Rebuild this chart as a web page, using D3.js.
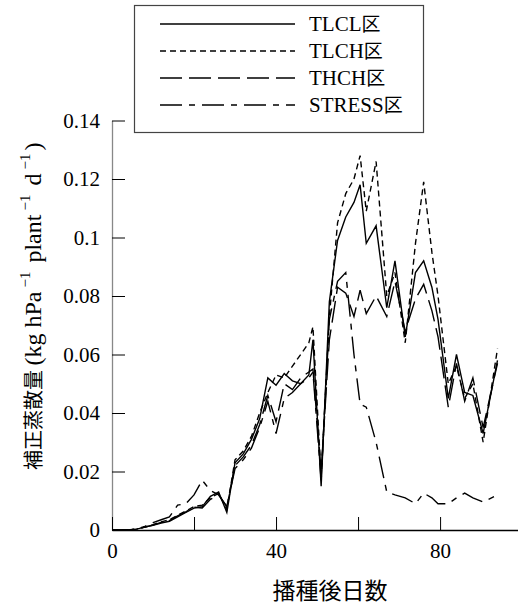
<!DOCTYPE html>
<html>
<head>
<meta charset="utf-8">
<script src="https://cdn.jsdelivr.net/npm/d3@7"></script>
<style>
  body { margin: 0; background: #fff; }
</style>
</head>
<body>
<script>
// 播種後日数
const days = [0, 2, 4, 6, 8, 10, 12, 14, 16, 18, 20, 22, 24, 26, 28, 30, 32, 34, 36, 38,
  40, 42, 44, 46, 48, 49, 51, 53, 55, 57, 59, 60.5, 62, 64.4, 67, 69, 71.5, 74, 76, 78,
  79.5, 82, 84, 86, 88, 90.5, 94];

// 補正蒸散量 (kg hPa-1 plant-1 d-1)
const tlcl = [0, 0, 0, 0.0003, 0.001, 0.0016, 0.0024, 0.003, 0.0045, 0.006, 0.0075, 0.008,
  0.0115, 0.013, 0.006, 0.023, 0.026, 0.031, 0.038, 0.052, 0.0495, 0.0535, 0.051, 0.05,
  0.053, 0.065, 0.015, 0.078, 0.099, 0.107, 0.112, 0.118, 0.098, 0.104, 0.076, 0.092,
  0.066, 0.088, 0.092, 0.083, 0.072, 0.045, 0.06, 0.047, 0.046, 0.033, 0.058];
const tlch = [0, 0, 0, 0.0003, 0.001, 0.0018, 0.0028, 0.0035, 0.005, 0.0065, 0.008, 0.0085,
  0.011, 0.0125, 0.007, 0.024, 0.027, 0.032, 0.04, 0.047, 0.053, 0.052, 0.056, 0.06,
  0.064, 0.0695, 0.018, 0.073, 0.105, 0.115, 0.12, 0.128, 0.109, 0.126, 0.08, 0.088,
  0.064, 0.098, 0.119, 0.095, 0.08, 0.05, 0.056, 0.045, 0.05, 0.03, 0.062];
const thch = [0, 0, 0, 0.0003, 0.001, 0.0017, 0.0026, 0.0032, 0.0048, 0.0062, 0.0078, 0.0075,
  0.0105, 0.012, 0.008, 0.022, 0.025, 0.029, 0.036, 0.046, 0.037, 0.05, 0.048, 0.052,
  0.054, 0.055, 0.02, 0.065, 0.083, 0.081, 0.073, 0.082, 0.074, 0.08, 0.073, 0.085,
  0.068, 0.079, 0.084, 0.075, 0.066, 0.042, 0.057, 0.044, 0.052, 0.035, 0.057];
const stress = [0, 0, 0, 0.0004, 0.0012, 0.0025, 0.0035, 0.0045, 0.0085, 0.009, 0.012, 0.017,
  0.0135, 0.012, 0.008, 0.021, 0.024, 0.028, 0.035, 0.044, 0.033, 0.045, 0.047, 0.05,
  0.052, 0.054, 0.017, 0.072, 0.085, 0.088, 0.06, 0.043, 0.042, 0.03, 0.013, 0.012,
  0.011, 0.009, 0.0126, 0.011, 0.009, 0.009, 0.011, 0.0126, 0.011, 0.0096, 0.012];

// 目盛り
const yTicks = [0, 0.02, 0.04, 0.06, 0.08, 0.1, 0.12, 0.14];
const xTicks = [0, 20, 40, 60, 80];
const xLabelTicks = [0, 40, 80];

// 凡例
const seriesNames = ['TLCL区', 'TLCH区', 'THCH区', 'STRESS区'];
const seriesDash = ['none', '6,4', '22,7', '22,7,6,7'];

const width = 518;
const height = 606;

const svg = d3.select('body')
  .append('svg')
  .attr('width', width)
  .attr('height', height);

// 共通の欧文テキスト
const serifText = (sel) => sel
  .style('font-family', '"Liberation Serif"')
  .style('font-size', '21px')
  .attr('fill', '#000');

// 比例尺
const x = d3.scaleLinear()
  .domain([0, 99])
  .range([112, 518]);

const y = d3.scaleLinear()
  .domain([0, 0.14])
  .range([530, 120.5]);

// Y軸
const yAxis = svg.append('g')
  .attr('transform', `translate(${x(0)},0)`)
  .call(d3.axisLeft(y)
    .tickValues(yTicks)
    .tickSizeInner(-13)
    .tickSizeOuter(0)
    .tickPadding(12)
    .tickFormat(d => String(+d.toFixed(2))));
yAxis.select('.domain').attr('stroke', '#888').attr('stroke-width', 1.3);
yAxis.selectAll('.tick line').attr('stroke', '#000');
yAxis.selectAll('.tick text').call(serifText);

// X軸
const xAxis = svg.append('g')
  .attr('transform', `translate(0,${y(0)})`)
  .call(d3.axisBottom(x)
    .tickValues(xTicks)
    .tickSizeInner(-13)
    .tickSizeOuter(0)
    .tickPadding(13)
    .tickFormat(d => xLabelTicks.includes(d) ? d : ''));
xAxis.select('.domain').attr('stroke', '#000').attr('stroke-width', 1.3);
xAxis.selectAll('.tick line').attr('stroke', '#000');
xAxis.selectAll('.tick text').call(serifText);

// 折れ線
const seriesValues = [tlcl, tlch, thch, stress];
const line = d3.line()
  .x(d => x(d[0]))
  .y(d => y(d[1]));

seriesValues.forEach((vals, i) => {
  svg.append('path')
    .datum(days.map((d, j) => [d, vals[j]]))
    .attr('d', line)
    .attr('fill', 'none')
    .attr('stroke', '#000')
    .attr('stroke-width', 1.4)
    .attr('stroke-dasharray', seriesDash[i]);
});

// 凡例
svg.append('rect')
  .attr('x', 134.5)
  .attr('y', 5.5)
  .attr('width', 289)
  .attr('height', 127)
  .attr('fill', '#fff')
  .attr('stroke', '#444')
  .attr('stroke-width', 1.2);

seriesNames.forEach((name, i) => {
  const ly = 24 + i * 27;
  svg.append('line')
    .attr('x1', 160)
    .attr('x2', 295)
    .attr('y1', ly)
    .attr('y2', ly)
    .attr('stroke', '#000')
    .attr('stroke-width', 1.4)
    .attr('stroke-dasharray', seriesDash[i]);
  const t = svg.append('text')
    .attr('x', 309)
    .attr('y', ly + 7)
    .call(serifText);
  t.append('tspan').text(name.slice(0, -1));
  t.append('tspan')
    .style('font-family', '"Noto Sans CJK JP"')
    .style('font-size', '19px')
    .text(name.slice(-1));
});

// 縦軸ラベル
const yLabel = svg.append('text')
  .attr('transform', 'translate(41,470) rotate(-90)')
  .attr('text-anchor', 'start')
  .call(serifText)
  .style('font-size', '24px');
yLabel.append('tspan')
  .style('font-family', '"Noto Sans CJK JP"')
  .style('font-size', '20px')
  .text('補正蒸散量 ');
const unitParts = [['(kg hPa', false], ['−1', true], [' plant', false], ['−1', true], [' d', false], ['−1', true], [')', false]];
unitParts.forEach(([t, sup]) => {
  const ts = yLabel.append('tspan').text(t);
  if (sup) {
    ts.style('font-size', '15px').attr('dy', -11).attr('dx', 4);
  } else if (t !== '(kg hPa') {
    ts.attr('dy', 11).attr('dx', 3);
  }
});

// 横軸ラベル
svg.append('text')
  .attr('x', 330)
  .attr('y', 599)
  .attr('text-anchor', 'middle')
  .style('font-family', '"Noto Sans CJK JP"')
  .style('font-size', '23px')
  .text('播種後日数');
</script>
</body>
</html>
